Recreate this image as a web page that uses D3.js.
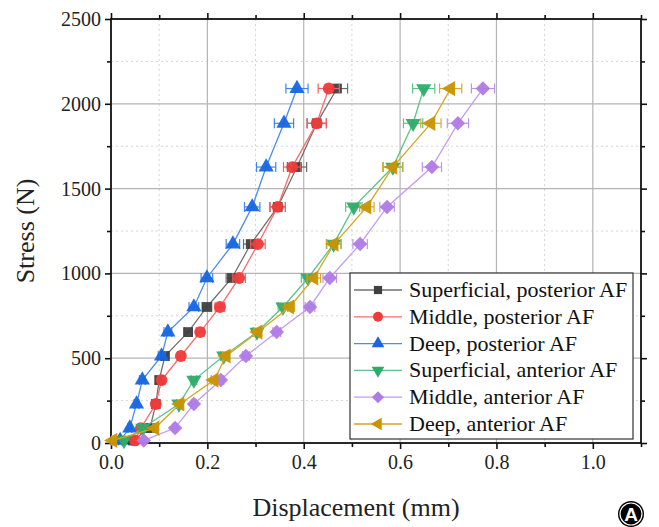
<!DOCTYPE html>
<html><head><meta charset="utf-8">
<script src="https://cdn.jsdelivr.net/npm/d3@7"></script>
<style>html,body{margin:0;padding:0;background:#fff;}svg{display:block;}</style>
</head><body>
<svg id="chart" width="659" height="527"></svg>
<script>
// ---- data ----
const stressLevels = [15, 88, 230, 371, 513, 654, 802, 973, 1173, 1392, 1627, 1885, 2090];
const seriesNames = ["Superficial, posterior AF","Middle, posterior AF","Deep, posterior AF","Superficial, anterior AF","Middle, anterior AF","Deep, anterior AF"];
const supPost  = [0.045, 0.081, 0.093, 0.100, 0.112, 0.160, 0.199, 0.251, 0.290, 0.346, 0.386, 0.427, 0.469];
const midPost  = [0.050, 0.062, 0.093, 0.105, 0.145, 0.185, 0.226, 0.266, 0.305, 0.346, 0.376, 0.427, 0.452];
const deepPost = [0.019, 0.039, 0.053, 0.065, 0.105, 0.118, 0.172, 0.199, 0.253, 0.293, 0.322, 0.359, 0.386];
const supAnt   = [0.027, 0.066, 0.141, 0.172, 0.234, 0.303, 0.357, 0.409, 0.462, 0.504, 0.585, 0.627, 0.649];
const midAnt   = [0.068, 0.133, 0.172, 0.228, 0.280, 0.344, 0.413, 0.454, 0.517, 0.573, 0.666, 0.720, 0.772];
const deepAnt  = [0.004, 0.091, 0.143, 0.214, 0.239, 0.305, 0.371, 0.421, 0.463, 0.531, 0.585, 0.664, 0.705];
const errSupPost  = [0.003,0.004,0.005,0.006,0.007,0.008,0.010,0.012,0.015,0.016,0.020,0.020,0.022];
const errMidPost  = [0.003,0.004,0.005,0.006,0.007,0.008,0.010,0.013,0.015,0.016,0.018,0.020,0.022];
const errDeepPost = [0.003,0.004,0.005,0.006,0.007,0.008,0.010,0.012,0.014,0.016,0.020,0.020,0.023];
const errSupAnt   = [0.003,0.004,0.005,0.006,0.007,0.008,0.010,0.014,0.015,0.017,0.020,0.020,0.023];
const errMidAnt   = [0.003,0.004,0.005,0.006,0.007,0.008,0.010,0.014,0.015,0.015,0.020,0.022,0.024];
const errDeepAnt  = [0.003,0.004,0.005,0.006,0.007,0.008,0.010,0.014,0.015,0.015,0.021,0.021,0.023];
const xTicks = [0.0, 0.2, 0.4, 0.6, 0.8, 1.0];
const xMinorTicks = [0.1, 0.3, 0.5, 0.7, 0.9, 1.1];
const yTicks = [0, 500, 1000, 1500, 2000, 2500];
const yMinorTicks = [250, 750, 1250, 1750, 2250];

// ---- styles ----
const styles = [
  {vals: supPost,  err: errSupPost,  marker:"#404040", line:"#707070", ebar:"#6a6a6a", sym:"square"},
  {vals: midPost,  err: errMidPost,  marker:"#f03a3a", line:"#f76a6a", ebar:"#f56060", sym:"circle"},
  {vals: deepPost, err: errDeepPost, marker:"#1765e2", line:"#4a8cf0", ebar:"#3f86ee", sym:"triUp"},
  {vals: supAnt,   err: errSupAnt,   marker:"#2fab68", line:"#5cc48a", ebar:"#5cc48a", sym:"triDown"},
  {vals: midAnt,   err: errMidAnt,   marker:"#b07ae6", line:"#c49cf0", ebar:"#bf92f0", sym:"diamond"},
  {vals: deepAnt,  err: errDeepAnt,  marker:"#c99400", line:"#d6a521", ebar:"#d9a92c", sym:"triLeft"}
];

const svg = d3.select("#chart");
const pLeft = 111, pRight = 641, pTop = 19, pBottom = 443;
const x = d3.scaleLinear().domain([0, 1.1]).range([pLeft, pRight]);
const y = d3.scaleLinear().domain([0, 2500]).range([pBottom, pTop]);

// grid
const g = svg.append("g");
g.selectAll(".gxm").data(xMinorTicks.filter(d => d < 1.1)).enter().append("line")
  .attr("x1", d => x(d)).attr("x2", d => x(d)).attr("y1", pTop).attr("y2", pBottom)
  .attr("stroke", "#d4d4d4").attr("stroke-width", 1).attr("stroke-dasharray", "2,3");
g.selectAll(".gym").data(yMinorTicks).enter().append("line")
  .attr("y1", d => y(d)).attr("y2", d => y(d)).attr("x1", pLeft).attr("x2", pRight)
  .attr("stroke", "#d4d4d4").attr("stroke-width", 1).attr("stroke-dasharray", "2,3");
g.selectAll(".gx").data(xTicks.filter(d => d > 0)).enter().append("line")
  .attr("x1", d => x(d)).attr("x2", d => x(d)).attr("y1", pTop).attr("y2", pBottom)
  .attr("stroke", "#b4b4b4").attr("stroke-width", 1.2);
g.selectAll(".gy").data(yTicks.filter(d => d > 0 && d < 2500)).enter().append("line")
  .attr("y1", d => y(d)).attr("y2", d => y(d)).attr("x1", pLeft).attr("x2", pRight)
  .attr("stroke", "#b4b4b4").attr("stroke-width", 1.2);

// axes
function styleAxis(sel) {
  sel.select(".domain").remove();
  sel.selectAll("line").attr("stroke", "#111").attr("stroke-width", 1.6);
  sel.selectAll("text").attr("font-family", "'Liberation Serif', 'Times New Roman', serif")
    .attr("font-size", 20).attr("fill", "#222");
}
const fmtX = d3.format(".1f");
const fmtY = d3.format("d");
svg.append("g").attr("transform", `translate(0,${pBottom})`)
  .call(d3.axisBottom(x).tickValues(xTicks).tickFormat(fmtX).tickSize(6).tickPadding(6)).call(styleAxis);
svg.append("g").attr("transform", `translate(0,${pBottom})`)
  .call(d3.axisBottom(x).tickValues(xMinorTicks).tickFormat("").tickSize(4)).call(styleAxis);
svg.append("g").attr("transform", `translate(0,${pTop})`)
  .call(d3.axisTop(x).tickValues(xTicks).tickFormat("").tickSize(6)).call(styleAxis);
svg.append("g").attr("transform", `translate(0,${pTop})`)
  .call(d3.axisTop(x).tickValues(xMinorTicks).tickFormat("").tickSize(4)).call(styleAxis);
svg.append("g").attr("transform", `translate(${pLeft},0)`)
  .call(d3.axisLeft(y).tickValues(yTicks).tickFormat(fmtY).tickSize(6).tickPadding(4)).call(styleAxis);
svg.append("g").attr("transform", `translate(${pLeft},0)`)
  .call(d3.axisLeft(y).tickValues(yMinorTicks).tickFormat("").tickSize(4)).call(styleAxis);
svg.append("g").attr("transform", `translate(${pRight},0)`)
  .call(d3.axisRight(y).tickValues(yTicks).tickFormat("").tickSize(6)).call(styleAxis);
svg.append("g").attr("transform", `translate(${pRight},0)`)
  .call(d3.axisRight(y).tickValues(yMinorTicks).tickFormat("").tickSize(4)).call(styleAxis);
svg.append("rect").attr("x", pLeft).attr("y", pTop).attr("width", pRight - pLeft).attr("height", pBottom - pTop)
  .attr("fill", "none").attr("stroke", "#111").attr("stroke-width", 1.8);

// symbols
function symPath(name, scale) {
  const s = scale || 1;
  switch (name) {
    case "square": return {d: d3.symbol(d3.symbolSquare, 96 * s)(), rot: 0};
    case "circle": return {d: d3.symbol(d3.symbolCircle, 110 * s)(), rot: 0};
    case "triUp": return {d: d3.symbol(d3.symbolTriangle, 100 * s)(), rot: 0};
    case "triDown": return {d: d3.symbol(d3.symbolTriangle, 100 * s)(), rot: 180};
    case "triLeft": return {d: d3.symbol(d3.symbolTriangle, 100 * s)(), rot: -90};
    case "diamond": return {d: d3.symbol(d3.symbolSquare, 105 * s)(), rot: 45};
  }
}

// lines, error bars, markers
const line = d3.line().x(d => x(d[0])).y(d => y(d[1]));
styles.forEach((st) => {
  const pts = st.vals.map((v, i) => [v, stressLevels[i], st.err[i]]);
  const sg = svg.append("g");
  sg.append("path").attr("d", line(pts)).attr("fill", "none").attr("stroke", st.line).attr("stroke-width", 1.3);
  const eb = sg.append("g").attr("stroke", st.ebar).attr("stroke-width", 1.2).attr("fill", "none");
  pts.forEach(p => {
    const x0 = x(p[0] - p[2]), x1 = x(p[0] + p[2]), yy = y(p[1]);
    eb.append("line").attr("x1", x0).attr("x2", x1).attr("y1", yy).attr("y2", yy);
    eb.append("line").attr("x1", x0).attr("x2", x0).attr("y1", yy - 5).attr("y2", yy + 5);
    eb.append("line").attr("x1", x1).attr("x2", x1).attr("y1", yy - 5).attr("y2", yy + 5);
  });
  const sp = symPath(st.sym);
  sg.selectAll(".m").data(pts).enter().append("path")
    .attr("d", sp.d)
    .attr("transform", d => `translate(${x(d[0])},${y(d[1])}) rotate(${sp.rot})`)
    .attr("fill", st.marker).attr("fill-opacity", 0.95);
});

// legend
const lg = svg.append("g");
const lx = 350, ly = 273, lw = 283, lh = 166, rowH = 26.8, firstRow = 290;
lg.append("rect").attr("x", lx).attr("y", ly).attr("width", lw).attr("height", lh)
  .attr("fill", "#fff").attr("stroke", "#333").attr("stroke-width", 1.2);
seriesNames.forEach((name, i) => {
  const st = styles[i];
  const yy = firstRow + i * rowH;
  lg.append("line").attr("x1", lx + 4).attr("x2", lx + 52).attr("y1", yy).attr("y2", yy)
    .attr("stroke", st.line).attr("stroke-width", 1.3);
  const sp = symPath(st.sym, 0.7);
  lg.append("path").attr("d", sp.d).attr("transform", `translate(${lx + 28},${yy}) rotate(${sp.rot})`)
    .attr("fill", st.marker);
  lg.append("text").attr("x", lx + 59).attr("y", yy + 7).text(name)
    .attr("font-family", "'Liberation Serif', 'Times New Roman', serif").attr("font-size", 22).attr("fill", "#111");
});

// axis titles
svg.append("text").attr("x", (pLeft + pRight) / 2 - 20).attr("y", 516).attr("text-anchor", "middle")
  .attr("font-family", "'Liberation Serif', 'Times New Roman', serif").attr("font-size", 26).attr("fill", "#222")
  .text("Displacement (mm)");
svg.append("text").attr("transform", `translate(34,${(pTop + pBottom) / 2}) rotate(-90)`).attr("text-anchor", "middle")
  .attr("font-family", "'Liberation Serif', 'Times New Roman', serif").attr("font-size", 26).attr("fill", "#222")
  .text("Stress (N)");

// panel badge
svg.append("circle").attr("cx", 631).attr("cy", 514).attr("r", 13).attr("fill", "#000");
svg.append("circle").attr("cx", 631).attr("cy", 514).attr("r", 11).attr("fill", "none").attr("stroke", "#fff").attr("stroke-width", 1.2);
svg.append("text").attr("x", 631).attr("y", 521).attr("text-anchor", "middle")
  .attr("font-family", "'Liberation Sans', Arial, sans-serif").attr("font-weight", "bold").attr("font-size", 19).attr("fill", "#fff").text("A");
</script>
</body></html>
